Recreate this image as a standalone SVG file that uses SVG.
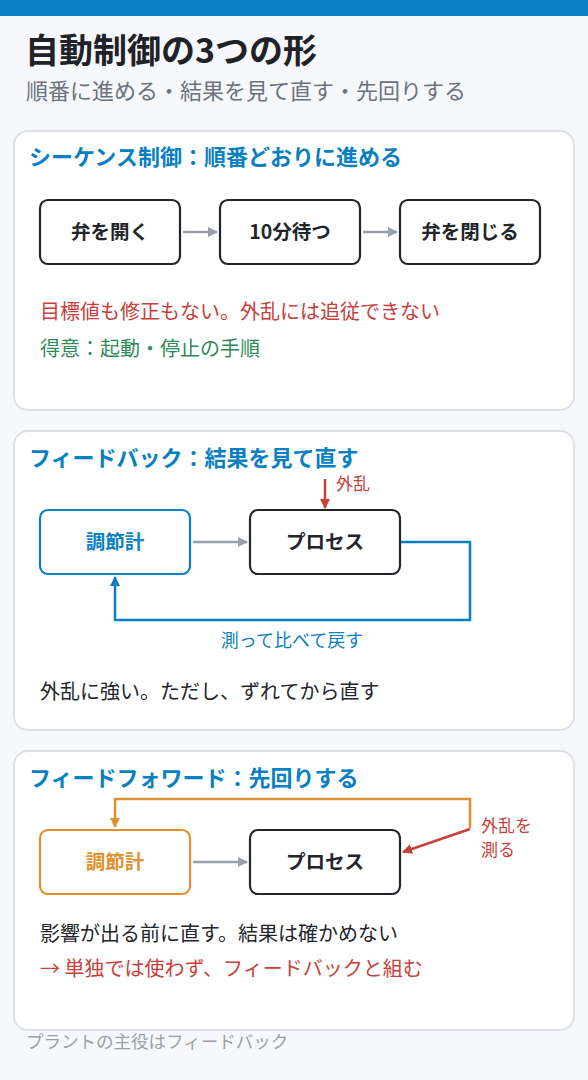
<svg xmlns="http://www.w3.org/2000/svg" width="588" height="1080" viewBox="0 0 588 1080">
<defs>
<style>
text{font-family:"Noto Sans CJK JP","Noto Sans",sans-serif}
.card{fill:#ffffff;stroke:#dde1e6;stroke-width:2}
.h{font-size:22px;font-weight:700;fill:#0a7fc2}
.box{fill:#ffffff;stroke:#22262b;stroke-width:2.2}
.bt{font-size:19.5px;font-weight:700;fill:#22262b;text-anchor:middle}
.gray{stroke:#9aa0a8;stroke-width:2.5;fill:none}
.body{font-size:20px;fill:#22262b}
</style>
<marker id="ag" viewBox="0 0 10 10" refX="9" refY="5" markerWidth="4" markerHeight="4" orient="auto"><path d="M0,0L10,5L0,10z" fill="#9aa0a8"/></marker>
<marker id="ab" viewBox="0 0 10 10" refX="9" refY="5" markerWidth="4" markerHeight="4" orient="auto"><path d="M0,0L10,5L0,10z" fill="#0a7fc2"/></marker>
<marker id="ar" viewBox="0 0 10 10" refX="9" refY="5" markerWidth="4" markerHeight="4" orient="auto"><path d="M0,0L10,5L0,10z" fill="#c8403a"/></marker>
<marker id="ao" viewBox="0 0 10 10" refX="9" refY="5" markerWidth="4" markerHeight="4" orient="auto"><path d="M0,0L10,5L0,10z" fill="#e0902c"/></marker>
</defs>
<rect width="588" height="1080" fill="#f6f8fb"/>
<rect width="588" height="16" fill="#0a80c8"/>
<text x="25" y="63" font-size="34" font-weight="700" fill="#1f2328">自動制御の3つの形</text>
<text x="26" y="99" font-size="22" fill="#6b7280">順番に進める・結果を見て直す・先回りする</text>

<g id="card1">
<rect class="card" x="14" y="131" width="560" height="279" rx="14"/>
<text class="h" x="29" y="165">シーケンス制御：順番どおりに進める</text>
<text x="40" y="319" font-size="20" fill="#c8403a">目標値も修正もない。外乱には追従できない</text>
<text x="40" y="356" font-size="20" fill="#2e8b57">得意：起動・停止の手順</text>
</g>
<g id="n-open"><rect class="box" x="40" y="200" width="140" height="64" rx="8"/><text class="bt" x="110" y="239">弁を開く</text></g>
<g id="n-wait"><rect class="box" x="220" y="200" width="140" height="64" rx="8"/><text class="bt" x="290" y="239">10分待つ</text></g>
<g id="n-close"><rect class="box" x="400" y="200" width="140" height="64" rx="8"/><text class="bt" x="470" y="239">弁を閉じる</text></g>

<g id="card2">
<rect class="card" x="14" y="431" width="560" height="299" rx="14"/>
<text class="h" x="29" y="466">フィードバック：結果を見て直す</text>
<text x="336" y="490" font-size="17" fill="#c8403a">外乱</text>
<text x="292" y="647" font-size="18" fill="#0a7fc2" text-anchor="middle">測って比べて戻す</text>
<text class="body" x="40" y="699">外乱に強い。ただし、ずれてから直す</text>
</g>
<g id="fb-ctrl"><rect x="40" y="510" width="150" height="64" rx="8" fill="#fff" stroke="#0a7fc2" stroke-width="2.2"/><text class="bt" x="115" y="549" style="fill:#0a7fc2">調節計</text></g>
<g id="fb-proc"><rect class="box" x="250" y="510" width="150" height="64" rx="8"/><text class="bt" x="325" y="549">プロセス</text></g>

<g id="card3">
<rect class="card" x="14" y="751" width="560" height="279" rx="14"/>
<text class="h" x="29" y="786">フィードフォワード：先回りする</text>
<text x="481" y="832" font-size="17" fill="#c8403a">外乱を</text>
<text x="481" y="856" font-size="17" fill="#c8403a">測る</text>
<text class="body" x="40" y="941">影響が出る前に直す。結果は確かめない</text>
<text x="40" y="976" font-size="20" fill="#c8403a">→ 単独では使わず、フィードバックと組む</text>
</g>
<g id="ff-ctrl"><rect x="40" y="830" width="150" height="64" rx="8" fill="#fff" stroke="#e0902c" stroke-width="2.2"/><text class="bt" x="115" y="869" style="fill:#e0902c">調節計</text></g>
<g id="ff-proc"><rect class="box" x="250" y="830" width="150" height="64" rx="8"/><text class="bt" x="325" y="869">プロセス</text></g>

<g id="connectors">
<line class="gray" x1="183" y1="232" x2="217" y2="232" marker-end="url(#ag)"/>
<line class="gray" x1="363" y1="232" x2="397" y2="232" marker-end="url(#ag)"/>
<line class="gray" x1="193" y1="542" x2="247" y2="542" marker-end="url(#ag)"/>
<line x1="325" y1="479" x2="325" y2="508" stroke="#c8403a" stroke-width="2.5" marker-end="url(#ar)"/>
<path d="M401,542H470V620H115V577" fill="none" stroke="#0a7fc2" stroke-width="2.5" marker-end="url(#ab)"/>
<path d="M470,828V799H115V827" fill="none" stroke="#e0902c" stroke-width="2.5" marker-end="url(#ao)"/>
<line x1="470" y1="829" x2="403" y2="852" stroke="#c8403a" stroke-width="2.5" marker-end="url(#ar)"/>
<line class="gray" x1="193" y1="862" x2="247" y2="862" marker-end="url(#ag)"/>
</g>
<text x="26" y="1048" font-size="17.5" fill="#9aa0a8">プラントの主役はフィードバック</text>
</svg>
